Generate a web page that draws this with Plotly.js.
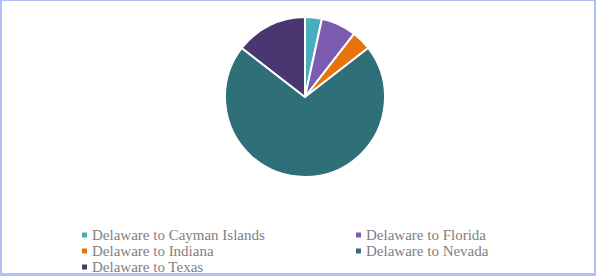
<!DOCTYPE html>
<html>
<head>
<meta charset="utf-8">
<script src="https://cdn.plot.ly/plotly-3.0.1.min.js"></script>
<style>
html,body{margin:0;padding:0;background:#fff;}
#frame{width:596px;height:276px;box-sizing:border-box;border:2px solid #b4bef2;border-top-width:1px;border-bottom-width:3px;position:relative;overflow:hidden;}
#chart{position:absolute;left:-2px;top:-1px;width:596px;height:276px;}
</style>
</head>
<body>
<div id="frame"><div id="chart"></div></div>
<script>
var categories = ["Delaware to Cayman Islands","Delaware to Florida","Delaware to Indiana","Delaware to Nevada","Delaware to Texas"];
var values = [3.4, 7.1, 4.0, 71.0, 14.5];
var colors = ["#4aacbf","#7b5cb0","#e8720c","#2f6f78","#4a3670"];

var W = 596, H = 276, mT = 17, mB = 99;
var plotH = H - mT - mB;
var cx = 305;
var trace = {
  type: "pie",
  labels: categories,
  values: values,
  sort: false,
  direction: "clockwise",
  rotation: 0,
  textinfo: "none",
  hoverinfo: "none",
  marker: {colors: colors, line: {color: "#ffffff", width: 2}},
  domain: {x: [(cx-100)/W, (cx+100)/W], y: [0, 1]}
};

// custom legend (two columns, row-major)
var colMarkX = [82, 356], rowY = [235, 251, 267];
var shapes = [], annotations = [];
function py(p){ return (H - mB - p) / plotH; }
categories.forEach(function(name, i){
  var c = i % 2, r = Math.floor(i / 2);
  var mx = colMarkX[c], my = rowY[r];
  shapes.push({type: "rect", xref: "paper", yref: "paper",
    x0: mx / W, x1: (mx + 5) / W, y0: py(my + 2.5), y1: py(my - 2.5),
    fillcolor: colors[i], line: {width: 0}});
  annotations.push({xref: "paper", yref: "paper", x: (mx + 8) / W, y: py(my),
    xanchor: "left", yanchor: "middle", showarrow: false, text: name,
    font: {family: "Liberation Serif, Times New Roman, serif", size: 15, color: "#808080"}});
});

var layout = {
  width: W, height: H,
  margin: {l: 0, r: 0, t: mT, b: mB},
  paper_bgcolor: "#ffffff",
  showlegend: false,
  shapes: shapes,
  annotations: annotations
};
Plotly.newPlot("chart", [trace], layout, {displayModeBar: false, staticPlot: true});
</script>
</body>
</html>
